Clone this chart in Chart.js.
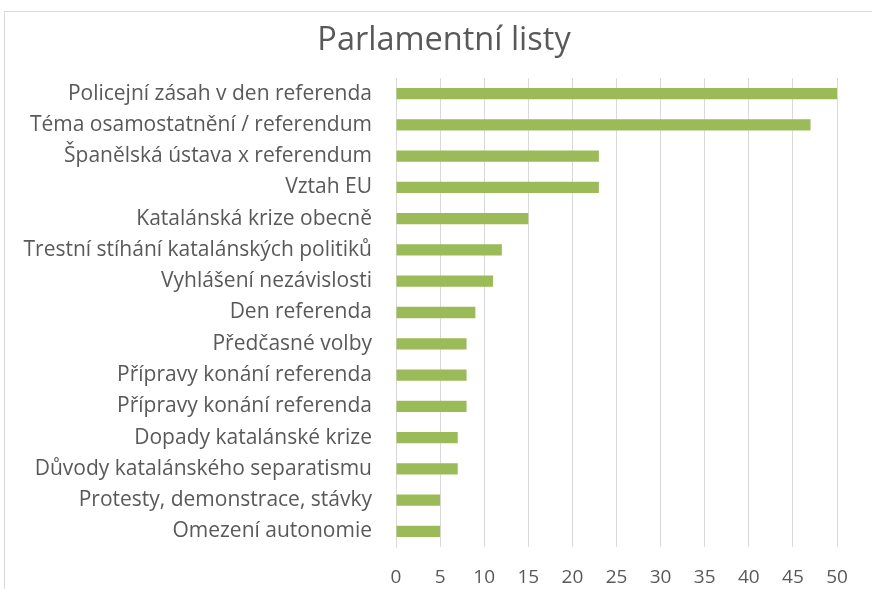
<!DOCTYPE html>
<html>
<head>
<meta charset="utf-8">
<script src="https://cdn.jsdelivr.net/npm/chart.js@4"></script>
<style>
  body { margin: 0; background: #fff; }
  #wrap { position: relative; width: 872px; height: 589px; overflow: hidden; }
  #frame { position: absolute; left: 4px; top: 11px; width: 900px; height: 600px; border: 1px solid #d9d9d9; box-sizing: border-box; }
  canvas { position: absolute; left: 0; top: 0; }
</style>
</head>
<body>
<div id="wrap">
  <div id="frame"></div>
  <canvas id="chart" width="872" height="589"></canvas>
</div>
<script>
// categories, top to bottom
const topics = [
  'Policejní zásah v den referenda',
  'Téma osamostatnění / referendum',
  'Španělská ústava x referendum',
  'Vztah EU',
  'Katalánská krize obecně',
  'Trestní stíhání katalánských politiků',
  'Vyhlášení nezávislosti',
  'Den referenda',
  'Předčasné volby',
  'Přípravy konání referenda',
  'Přípravy konání referenda',
  'Dopady katalánské krize',
  'Důvody katalánského separatismu',
  'Protesty, demonstrace, stávky',
  'Omezení autonomie'
];
const counts = [50, 47, 23, 23, 15, 12, 11, 9, 8, 8, 8, 7, 7, 5, 5];
const xTicks = [0, 5, 10, 15, 20, 25, 30, 35, 40, 45, 50];
const chartTitle = 'Parlamentní listy';

const fontFam = '"Open Sans", sans-serif';
const textColor = '#595959';

// title is centred on the whole frame, not on the plot, so draw it by hand
const frameTitle = {
  id: 'frameTitle',
  afterDraw(chart) {
    const c = chart.ctx;
    c.save();
    c.fillStyle = textColor;
    c.font = '32.5px ' + fontFam;
    c.textAlign = 'center';
    c.textBaseline = 'middle';
    c.fillText(chartTitle, 444, 41);
    c.restore();
  }
};

var ctx = document.getElementById('chart').getContext('2d');
new Chart(ctx, {
  type: 'bar',
  data: {
    labels: topics,
    datasets: [{
      data: counts,
      backgroundColor: '#9bbb59',
      borderWidth: 0,
      barPercentage: 0.36,
      categoryPercentage: 1
    }]
  },
  options: {
    indexAxis: 'y',
    responsive: false,
    animation: false,
    layout: { padding: { left: 0, right: 35, top: 78, bottom: 0 } },
    plugins: {
      legend: { display: false },
      tooltip: { enabled: false },
      title: { display: false }
    },
    scales: {
      x: {
        min: 0,
        max: 50,
        afterBuildTicks: function (scale) {
          scale.ticks = xTicks.map(v => ({ value: v }));
        },
        afterFit: function (scale) { scale.height = 42; },
        grid: { color: '#d9d9d9', drawTicks: false },
        border: { display: false },
        ticks: {
          color: textColor,
          font: { family: fontFam, size: 19 },
          padding: 19
        }
      },
      y: {
        afterFit: function (scale) { scale.width = 396; },
        grid: { display: false, drawTicks: false },
        border: { display: true, color: '#d9d9d9' },
        ticks: {
          color: textColor,
          font: { family: fontFam, size: 21 },
          padding: 24,
          autoSkip: false
        }
      }
    }
  },
  plugins: [frameTitle]
});
</script>
</body>
</html>
